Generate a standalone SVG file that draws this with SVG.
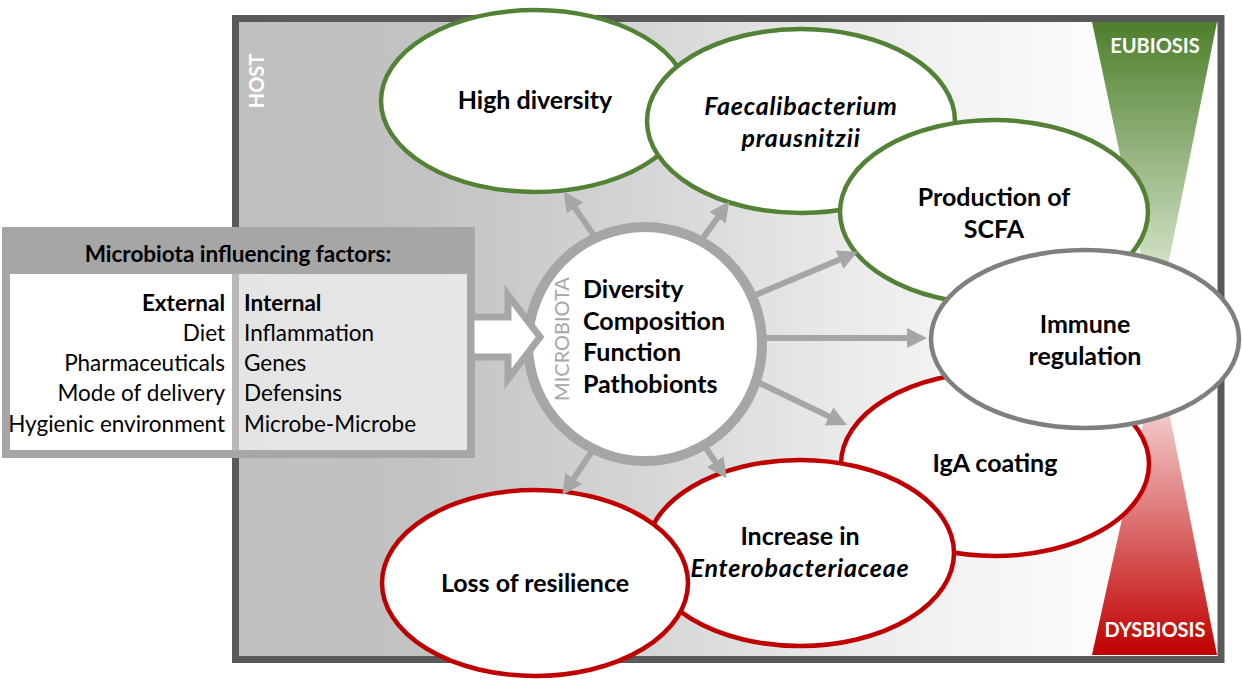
<svg xmlns="http://www.w3.org/2000/svg" width="1243" height="683" viewBox="0 0 1243 683">
<defs>
<linearGradient id="hostGrad" gradientUnits="userSpaceOnUse" x1="239" y1="0" x2="1217" y2="0">
<stop offset="0" stop-color="#bfbfbf"/>
<stop offset="0.185" stop-color="#c2c2c2"/>
<stop offset="0.42" stop-color="#d6d6d6"/>
<stop offset="0.676" stop-color="#efefef"/>
<stop offset="0.88" stop-color="#fcfcfc"/>
<stop offset="1" stop-color="#ffffff"/>
</linearGradient>
<linearGradient id="euGrad" gradientUnits="userSpaceOnUse" x1="0" y1="22" x2="0" y2="300">
<stop offset="0" stop-color="#4e7f2c"/>
<stop offset="1" stop-color="#e4efdc"/>
</linearGradient>
<linearGradient id="dysGrad" gradientUnits="userSpaceOnUse" x1="0" y1="655" x2="0" y2="405">
<stop offset="0" stop-color="#c00000"/>
<stop offset="1" stop-color="#f4d2d2"/>
</linearGradient>
<marker id="ah" markerUnits="userSpaceOnUse" markerWidth="20" markerHeight="20" refX="12" refY="10" orient="auto">
<path d="M0,0 L20,10 L0,20 z" fill="#a6a6a6"/>
</marker>
<style>
.t{font-family:Lato,"Liberation Sans",sans-serif;font-weight:bold;font-size:25px;fill:#000;text-anchor:middle}
.it{font-style:italic;letter-spacing:0.8px}
.f{font-family:Lato,"Liberation Sans",sans-serif;font-size:22.5px;fill:#000}
.fb{font-weight:bold}
.green{fill:#fff;stroke:#538135;stroke-width:4.5}
.red{fill:#fff;stroke:#c00000;stroke-width:4.5}
.grey{fill:#fff;stroke:#7f7f7f;stroke-width:4.5}
.conn{stroke:#a6a6a6;stroke-width:6;fill:none;marker-end:url(#ah)}
.lbl{font-family:Lato,"Liberation Sans",sans-serif;font-weight:bold;font-size:20px;fill:#fff;text-anchor:middle}
</style>
</defs>

<g id="host">
<rect x="235.5" y="18.5" width="985.5" height="641" fill="url(#hostGrad)" stroke="#595959" stroke-width="7"/>
<text class="lbl" transform="translate(264,81) rotate(-90)">HOST</text>
</g>

<g id="eubiosis">
<polygon points="1092,22 1217,22 1156,325" fill="url(#euGrad)"/>
<text class="lbl" x="1155" y="53">EUBIOSIS</text>
</g>
<g id="dysbiosis">
<polygon points="1092,655 1217,655 1158,356" fill="url(#dysGrad)"/>
<text class="lbl" x="1155" y="637">DYSBIOSIS</text>
</g>

<g id="high-diversity">
<ellipse class="green" cx="535" cy="101" rx="154" ry="91"/>
<text class="t" x="535" y="109">High diversity</text>
</g>
<g id="faecalibacterium">
<ellipse class="green" cx="801" cy="121" rx="154" ry="92"/>
<text class="t it" x="801" y="115">Faecalibacterium</text>
<text class="t it" x="801" y="147">prausnitzii</text>
</g>
<g id="scfa">
<ellipse class="green" cx="994" cy="212" rx="154" ry="92"/>
<text class="t" x="994" y="206">Production of</text>
<text class="t" x="994" y="238">SCFA</text>
</g>
<g id="iga">
<ellipse class="red" cx="995" cy="464" rx="154" ry="92"/>
<text class="t" x="995" y="472">IgA coating</text>
</g>
<g id="immune">
<ellipse class="grey" cx="1085" cy="339" rx="154" ry="89"/>
<text class="t" x="1085" y="333">Immune</text>
<text class="t" x="1085" y="365">regulation</text>
</g>
<g id="enterobacteriaceae">
<ellipse class="red" cx="800" cy="553" rx="154" ry="93"/>
<text class="t" x="800" y="545">Increase in</text>
<text class="t it" x="800" y="577">Enterobacteriaceae</text>
</g>
<g id="resilience">
<ellipse class="red" cx="535" cy="583" rx="153" ry="93"/>
<text class="t" x="535" y="592">Loss of resilience</text>
</g>

<g id="connectors">
<line class="conn" x1="615" y1="266" x2="568.2" y2="198.1"/>
<line class="conn" x1="680" y1="270" x2="724.6" y2="207.9"/>
<line class="conn" x1="720" y1="310" x2="850.5" y2="254.9"/>
<line class="conn" x1="720" y1="338" x2="919" y2="338"/>
<line class="conn" x1="720" y1="364" x2="839.8" y2="421.6"/>
<line class="conn" x1="680" y1="410" x2="722.1" y2="471.7"/>
<line class="conn" x1="620" y1="410" x2="566.8" y2="488.6"/>
</g>

<g id="microbiota">
<circle cx="645" cy="344" r="117" fill="#fff" stroke="#a6a6a6" stroke-width="10"/>
<text transform="translate(569,339) rotate(-90)" style="font-family:Lato,'Liberation Sans',sans-serif;font-size:20px;fill:#a6a6a6;text-anchor:middle">MICROBIOTA</text>
<text class="t" x="583" y="298" style="text-anchor:start">Diversity</text>
<text class="t" x="583" y="330" style="text-anchor:start">Composition</text>
<text class="t" x="583" y="361" style="text-anchor:start">Function</text>
<text class="t" x="583" y="393" style="text-anchor:start">Pathobionts</text>
</g>

<g id="factors">
<rect x="6" y="231" width="465" height="223" fill="#fff" fill-opacity="0.58" stroke="#a6a6a6" stroke-width="8"/>
<rect x="2" y="227" width="473" height="47" fill="#a6a6a6"/>
<text class="f fb" x="238" y="262" text-anchor="middle">Microbiota influencing factors:</text>
<g text-anchor="end">
<text class="f fb" x="225" y="311">External</text>
<text class="f" x="225" y="341">Diet</text>
<text class="f" x="225" y="371">Pharmaceuticals</text>
<text class="f" x="225" y="401">Mode of delivery</text>
<text class="f" x="225" y="432">Hygienic environment</text>
</g>
<text class="f fb" x="244" y="311">Internal</text>
<text class="f" x="244" y="341">Inflammation</text>
<text class="f" x="244" y="371">Genes</text>
<text class="f" x="244" y="401">Defensins</text>
<text class="f" x="244" y="432">Microbe-Microbe</text>
</g>

<g id="input-arrow">
<polygon points="471,317 508,317 508,295 540,337 508,379 508,357 471,357" fill="#fff" stroke="#a6a6a6" stroke-width="7" stroke-linejoin="miter"/>
</g>
</svg>
